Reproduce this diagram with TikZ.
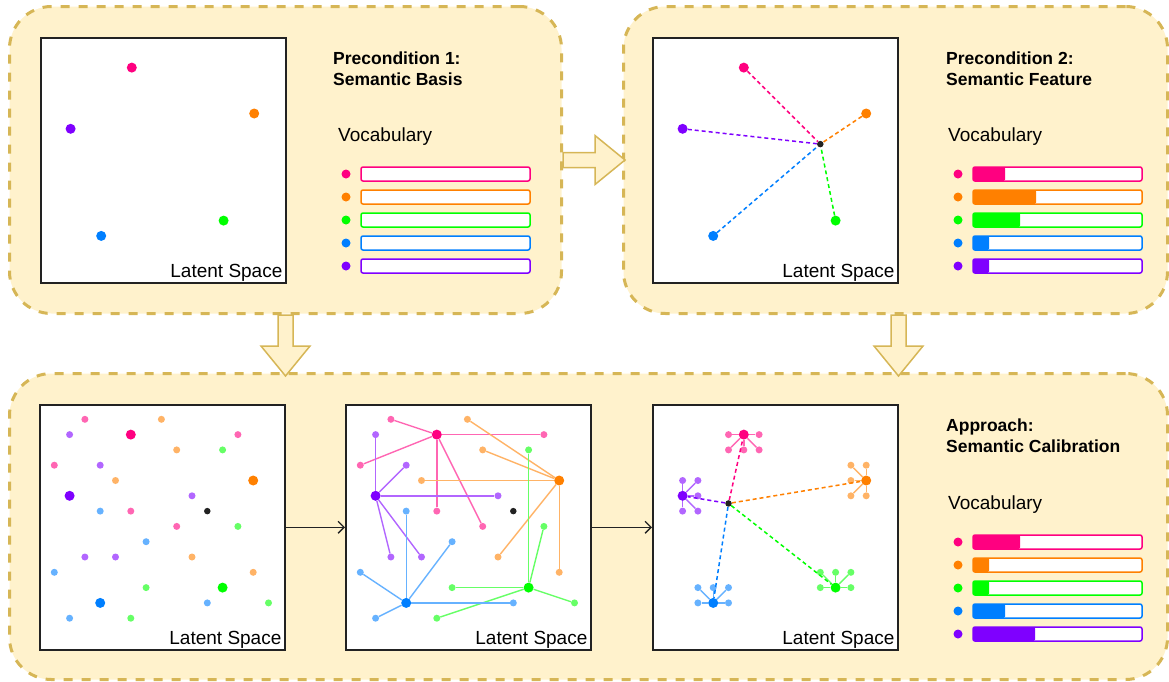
\documentclass[tikz,border=0pt]{standalone}
\usepackage{fontspec}
\setmainfont{Liberation Sans}
\usepackage{xcolor}
\definecolor{rose}{RGB}{255,0,128}
\definecolor{amber}{RGB}{255,128,0}
\definecolor{leaf}{RGB}{0,255,0}
\definecolor{sky}{RGB}{0,127,255}
\definecolor{grape}{RGB}{127,0,255}
\definecolor{cream}{RGB}{255,242,204}
\definecolor{sand}{RGB}{214,182,86}
\definecolor{ink}{RGB}{34,34,34}
\usepackage{tikz}
\usetikzlibrary{arrows.meta}

\tikzset{
  container/.style={draw=sand, fill=cream, line width=3pt, dash pattern=on 9pt off 9pt, rounded corners=42pt, anchor=north west, inner sep=0},
  blockarrow/.style={draw=sand, fill=cream, line width=1.5pt},
  panel/.style={draw=ink, fill=white, line width=1.6pt, minimum size=245pt, anchor=north west, inner sep=0},
  bigdot/.style={circle, fill=#1, minimum size=10pt, inner sep=0},
  smalldot/.style={circle, fill=#1!60, minimum size=7pt, inner sep=0},
  centre/.style={circle, fill=ink, minimum size=6.5pt, inner sep=0},
  spoke/.style={draw=#1!60, line width=1.4pt},
  pull/.style={draw=#1, line width=1.5pt, dash pattern=on 4pt off 3pt},
  spacelabel/.style={font=\fontsize{19}{23}\selectfont, inner sep=0, anchor=south east},
  heading/.style={font=\fontsize{17.5}{21}\selectfont\bfseries, align=left, inner sep=0, anchor=north west},
  vocab/.style={font=\fontsize{19}{23}\selectfont, inner sep=0, anchor=base west},
  vocdot/.style={circle, fill=#1, minimum size=9pt, inner sep=0},
  bar/.style={fill=white, minimum width=169pt, minimum height=14pt, inner sep=0, outer sep=0, anchor=west},
  barline/.style={draw=#1, line width=1.5pt, rounded corners=2pt},
  flow/.style={draw=ink, line width=1.3pt, -{Straight Barb[length=6pt,width=12pt]}}
}

\begin{document}
\begin{tikzpicture}[x=1pt, y=-1pt]
\useasboundingbox (0,0) rectangle (1169,681);

\node[container, minimum width=552pt, minimum height=307pt] (top1) at (8,5) {};
\node[container, minimum width=544pt, minimum height=307pt] (top2) at (622,5) {};
\node[container, minimum width=1158pt, minimum height=306pt] (bottom) at (8,372) {};

\draw[blockarrow] (top1.east) ++(0,-7.5) -- ++(32,0) -- ++(0,-17) -- ++(30,24.5) -- ++(-30,24.5) -- ++(0,-17) -- ++(-32,0) -- cycle;
\draw[blockarrow] (top1.south) ++(-7.5,0) -- ++(0,31) -- ++(-17,0) -- ++(24.5,30) -- ++(24.5,-30) -- ++(-17,0) -- ++(0,-31) -- cycle;
\draw[blockarrow] ([xshift=3pt]top2.south) ++(-7.5,0) -- ++(0,31) -- ++(-17,0) -- ++(24.5,30) -- ++(24.5,-30) -- ++(-17,0) -- ++(0,-31) -- cycle;

% precondition 1
\begin{scope}[shift={(40,37)}, x=15.3pt, y=-15.3pt]
  \node[panel] (p1) at (0,0) {};
  \foreach \c/\i/\j in {rose/6/2, amber/14/5, grape/2/6, leaf/12/12, sky/4/13}
    \node[bigdot=\c] (p1-\c) at (\i,\j) {};
  \node[spacelabel] (p1-label) at ([xshift=-4pt, yshift=2pt]p1.south east) {Latent Space};
\end{scope}
\node[heading] (p1-title) at (333,51.5) {Precondition 1:\\Semantic Basis};
\node[vocab] (p1-vocab) at (338,141.5) {Vocabulary};
\foreach \c [count=\k] in {rose, amber, leaf, sky, grape} {
  \node[vocdot=\c] (p1-v\k) at (346,151+23*\k) {};
  \node[bar] (p1-b\k) at (361,151+23*\k) {};
  \draw[barline=\c] (p1-b\k.north west) rectangle (p1-b\k.south east);
}

% precondition 2
\begin{scope}[shift={(652,37)}, x=15.3pt, y=-15.3pt]
  \node[panel] (p2) at (0,0) {};
  \node[centre] (p2-centre) at (11,7) {};
  \foreach \c/\i/\j in {rose/6/2, amber/14/5, grape/2/6, leaf/12/12, sky/4/13} {
    \node[bigdot=\c] (p2-\c) at (\i,\j) {};
    \draw[pull=\c] (p2-\c) -- (p2-centre);
  }
  \node[spacelabel] (p2-label) at ([xshift=-4pt, yshift=2pt]p2.south east) {Latent Space};
\end{scope}
\node[heading] (p2-title) at (946,51.5) {Precondition 2:\\Semantic Feature};
\node[vocab] (p2-vocab) at (948,141.5) {Vocabulary};
\foreach \c/\w [count=\k] in {rose/32, amber/63, leaf/47, sky/16, grape/16} {
  \node[vocdot=\c] (p2-v\k) at (958,151+23*\k) {};
  \node[bar] (p2-b\k) at (973,151+23*\k) {};
  \fill[\c, rounded corners=1.5pt] (p2-b\k.north west) rectangle ([xshift=\w pt]p2-b\k.south west);
  \draw[barline=\c] (p2-b\k.north west) rectangle (p2-b\k.south east);
}

% approach
\foreach \q/\x in {q1/39, q2/345} {
  \begin{scope}[shift={(\x,404)}, x=15.3pt, y=-15.3pt]
    \node[panel] (\q) at (0,0) {};
    \node[centre] (\q-centre) at (11,7) {};
    \foreach \c/\i/\j in {rose/6/2, amber/14/5, grape/2/6, leaf/12/12, sky/4/13}
      \node[bigdot=\c] (\q-\c) at (\i,\j) {};
    \foreach \c/\pts in {rose/{3/1,13/2,1/4,6/7,9/8}, amber/{8/1,9/3,5/5,10/10,14/11}, grape/{2/2,4/4,10/6,3/10,5/10}, leaf/{12/3,13/8,7/12,15/13,6/14}, sky/{4/7,7/9,1/11,11/13,2/14}}
      \foreach \i/\j [count=\k] in \pts
        \node[smalldot=\c] (\q-\c-\k) at (\i,\j) {};
    \node[spacelabel] (\q-label) at ([xshift=-4pt, yshift=2pt]\q.south east) {Latent Space};
  \end{scope}
}
\foreach \c in {rose, amber, grape, leaf, sky}
  \foreach \k in {1,...,5}
    \draw[spoke=\c] (q2-\c) -- (q2-\c-\k);

\begin{scope}[shift={(652,404)}, x=15.3pt, y=-15.3pt]
  \node[panel] (q3) at (0,0) {};
  \node[centre] (q3-centre) at (5,6.5) {};
  \foreach \c/\i/\j/\pts in {rose/6/2/{-1/0,1/0,-1/1,0/1,1/1}, amber/14/5/{-1/-1,0/-1,-1/0,-1/1,0/1}, grape/2/6/{0/-1,1/-1,1/0,0/1,1/1}, leaf/12/12/{-1/-1,0/-1,1/-1,-1/0,1/0}, sky/4/13/{-1/-1,0/-1,1/-1,-1/0,1/0}} {
    \node[bigdot=\c] (q3-\c) at (\i,\j) {};
    \foreach \a/\b [count=\k] in \pts {
      \node[smalldot=\c] (q3-\c-\k) at (\i+\a,\j+\b) {};
      \draw[spoke=\c] (q3-\c) -- (q3-\c-\k);
    }
    \draw[pull=\c] (q3-centre) -- (q3-\c);
  }
  \node[spacelabel] (q3-label) at ([xshift=-4pt, yshift=2pt]q3.south east) {Latent Space};
\end{scope}

\draw[flow] (q1) -- (q2);
\draw[flow] (q2) -- (q3);

\node[heading] (q-title) at (946,418.5) {Approach:\\Semantic Calibration};
\node[vocab] (q-vocab) at (948,509.5) {Vocabulary};
\foreach \c/\w [count=\k] in {rose/47, amber/16, leaf/16, sky/32, grape/62} {
  \node[vocdot=\c] (q-v\k) at (958,519+23*\k) {};
  \node[bar] (q-b\k) at (973,519+23*\k) {};
  \fill[\c, rounded corners=1.5pt] (q-b\k.north west) rectangle ([xshift=\w pt]q-b\k.south west);
  \draw[barline=\c] (q-b\k.north west) rectangle (q-b\k.south east);
}
\end{tikzpicture}
\end{document}
